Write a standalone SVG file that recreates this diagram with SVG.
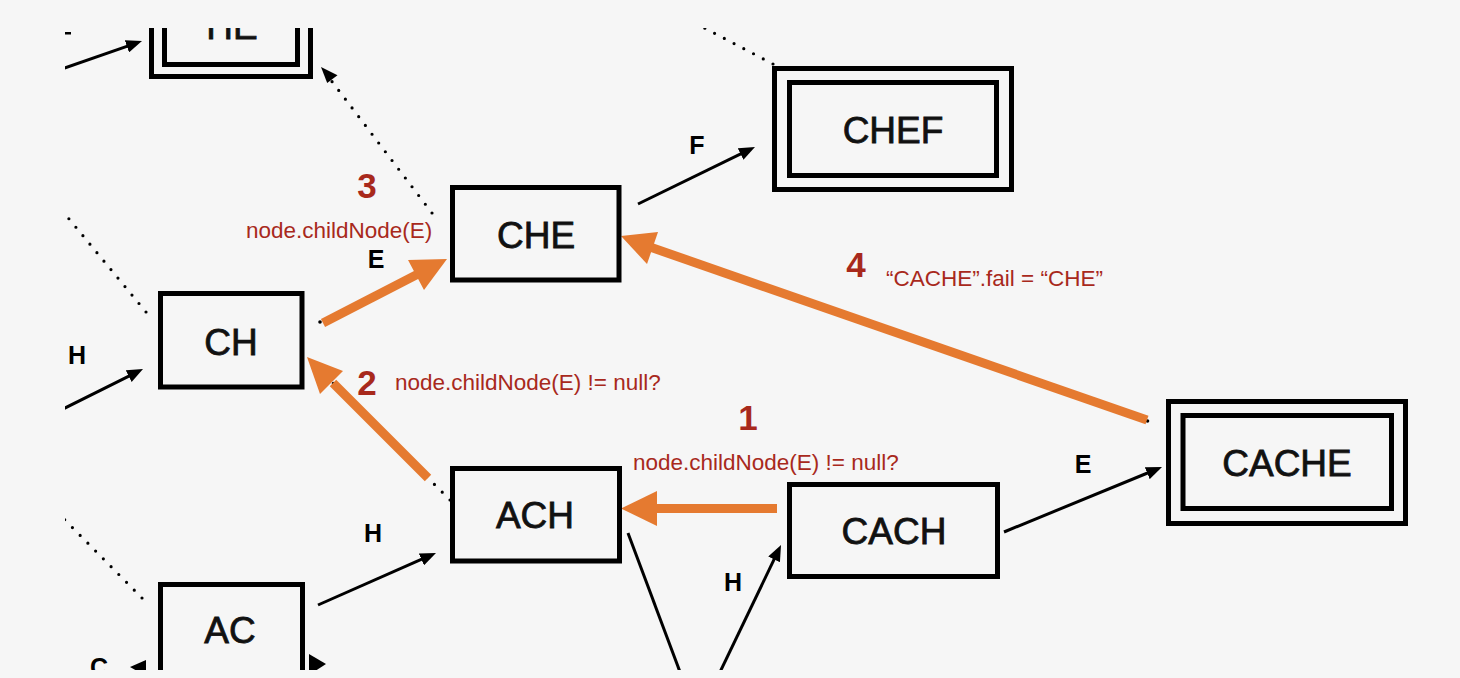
<svg xmlns="http://www.w3.org/2000/svg" width="1460" height="678" viewBox="0 0 1460 678">
<defs>
<style>
.box{fill:none;stroke:#000;stroke-width:5}
.lbl{font-family:"Liberation Sans",Arial,sans-serif;font-size:37px;fill:#111;stroke:#111;stroke-width:0.8;text-anchor:middle}
.edge{font-family:"Liberation Sans",Arial,sans-serif;font-size:25px;font-weight:bold;fill:#000;text-anchor:middle}
.num{font-family:"Liberation Sans",Arial,sans-serif;font-size:35px;font-weight:bold;fill:#a8291c;text-anchor:middle}
.note{font-family:"Liberation Sans",Arial,sans-serif;font-size:22.5px;fill:#a8291c}
.arr{stroke:#000;stroke-width:3;fill:none;marker-end:url(#ah)}
.dot{stroke:#000;stroke-width:3.2;fill:none;stroke-linecap:round;stroke-dasharray:0 11}
.or{stroke:#e57a30;stroke-width:9;fill:none}
.orh{fill:#e57a30}
</style>
<marker id="ah" markerUnits="userSpaceOnUse" markerWidth="16" markerHeight="13" refX="3" refY="6.5" orient="auto">
<path d="M0,0 L16,6.5 L0,13 z" fill="#000"/>
</marker>
<clipPath id="clip"><rect x="65" y="28" width="1395" height="642"/></clipPath>
</defs>
<rect width="1460" height="678" fill="#f6f6f6"/>
<g clip-path="url(#clip)">
<g id="connectors">
<line class="arr" x1="60" y1="69.7" x2="129.7" y2="45.3"/>
<line class="arr" x1="638" y1="204" x2="743.3" y2="152.7"/>
<line class="arr" x1="60" y1="410.5" x2="131.4" y2="374.8"/>
<line class="arr" x1="318" y1="605" x2="424.1" y2="558.2"/>
<line class="arr" x1="1004" y1="532" x2="1150" y2="472"/>
<line class="arr" x1="714.5" y1="683.5" x2="775.4" y2="556.7"/>
<line stroke="#000" stroke-width="3" x1="628" y1="533" x2="686" y2="688"/>
<line class="dot" x1="432" y1="213" x2="330" y2="79"/>
<path d="M321,67 L337.5,75.2 L327.2,83.1 z" fill="#000"/>
<line class="dot" x1="773" y1="64" x2="695" y2="23"/>
<line class="dot" x1="146" y1="312" x2="60" y2="208"/>
<line class="dot" x1="142" y1="598" x2="60" y2="515"/>
<line class="dot" x1="450" y1="500" x2="318" y2="368"/>
<path d="M130,667 L146,660 L146,676 z" fill="#000"/>
<path d="M309,654 L326,664 L309,675 z" fill="#000"/>
<rect x="65" y="32" width="6" height="2.5" fill="#000"/>
<circle cx="320" cy="322" r="1.8" fill="#000"/>
<circle cx="1147.5" cy="421" r="1.8" fill="#000"/>
<line class="or" x1="777" y1="508.5" x2="655" y2="508.5"/>
<path class="orh" d="M621,508.5 L657,491 L657,526 z"/>
<line class="or" x1="428" y1="478" x2="333" y2="383"/>
<path class="orh" d="M307,357 L343,371 L320,394 z"/>
<line class="or" x1="323" y1="323" x2="418" y2="274"/>
<path class="orh" d="M447,259 L408,260 L424,290 z"/>
<line class="or" x1="1147" y1="420" x2="650" y2="247"/>
<path class="orh" d="M621,236 L658,232 L647,264 z"/>
</g>
<g id="node-HE">
<rect class="box" x="151.5" y="-60" width="159" height="136.5"/>
<rect class="box" x="164.5" y="-50" width="133" height="114.5"/>
<text class="lbl" x="232" y="39">HE</text>
</g>
<g id="node-CHEF">
<rect class="box" x="774.5" y="68.5" width="237" height="121"/>
<rect class="box" x="789.5" y="82.5" width="207" height="93"/>
<text class="lbl" x="893" y="143">CHEF</text>
</g>
<g id="node-CHE">
<rect class="box" x="452.5" y="187.5" width="166.5" height="92.5"/>
<text class="lbl" x="536" y="248">CHE</text>
</g>
<g id="node-CH">
<rect class="box" x="160.5" y="293.5" width="141.5" height="93.5"/>
<text class="lbl" x="231" y="355">CH</text>
</g>
<g id="node-ACH">
<rect class="box" x="452.5" y="468.5" width="167" height="92.5"/>
<text class="lbl" x="535" y="528">ACH</text>
</g>
<g id="node-CACH">
<rect class="box" x="789.5" y="484.5" width="208" height="92"/>
<text class="lbl" x="894" y="544">CACH</text>
</g>
<g id="node-CACHE">
<rect class="box" x="1168.5" y="401.5" width="237" height="122"/>
<rect class="box" x="1183" y="415.5" width="208.5" height="93"/>
<text class="lbl" x="1287" y="476">CACHE</text>
</g>
<g id="node-AC">
<rect class="box" x="160.5" y="584.5" width="142" height="120"/>
<text class="lbl" x="230" y="643">AC</text>
</g>
<g id="labels">
<text class="edge" x="697" y="154">F</text>
<text class="edge" x="376" y="268">E</text>
<text class="edge" x="77" y="364">H</text>
<text class="edge" x="373" y="542">H</text>
<text class="edge" x="733" y="591">H</text>
<text class="edge" x="1083" y="473">E</text>
<text class="edge" x="99" y="676">C</text>
<text class="num" x="367" y="198">3</text>
<text class="note" x="246" y="238">node.childNode(E)</text>
<text class="num" x="367" y="395">2</text>
<text class="note" x="395" y="390">node.childNode(E) != null?</text>
<text class="num" x="748" y="430">1</text>
<text class="note" x="633" y="470">node.childNode(E) != null?</text>
<text class="num" x="856" y="277">4</text>
<text class="note" x="886" y="286">“CACHE”.fail = “CHE”</text>
</g>
</g>
</svg>
